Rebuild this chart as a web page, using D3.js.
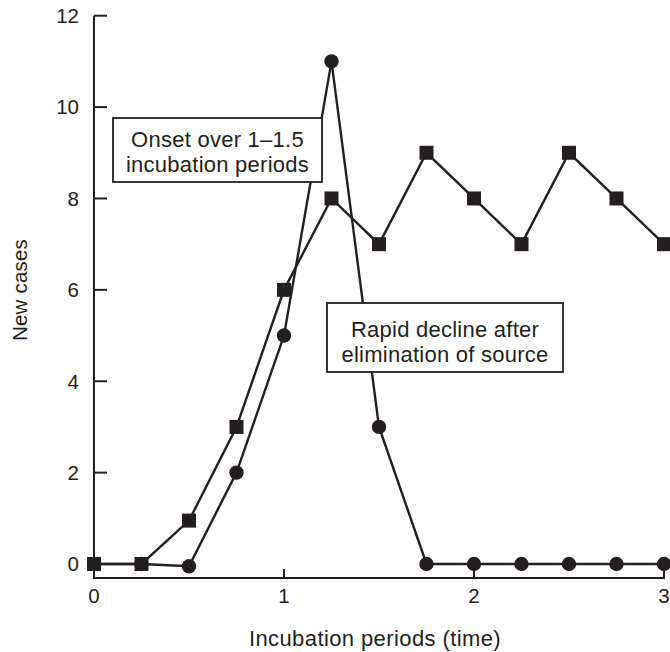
<!DOCTYPE html>
<html>
<head>
<meta charset="utf-8">
<script src="https://cdn.jsdelivr.net/npm/d3@7"></script>
<style>
  html, body { margin: 0; padding: 0; background: #fff; }
  svg { display: block; }
  text { font-family: "Liberation Sans", Arial, Helvetica, sans-serif; fill: #231f20; }
</style>
</head>
<body>
<svg id="chart" width="670" height="652"></svg>
<script>
// ---- data ----
const periods = [0, 0.25, 0.5, 0.75, 1, 1.25, 1.5, 1.75, 2, 2.25, 2.5, 2.75, 3];
const pointSource = [0, 0, -0.05, 2, 5, 11, 3, 0, 0, 0, 0, 0, 0];      // circles
const continuingSource = [0, 0, 0.95, 3, 6, 8, 7, 9, 8, 7, 9, 8, 7];   // squares
const xTicks = [0, 1, 2, 3];
const yTicks = [0, 2, 4, 6, 8, 10, 12];
const xTitle = "Incubation periods (time)";
const yTitle = "New cases";
const note1 = ["Onset over 1\u20131.5", "incubation periods"];
const note2 = ["Rapid decline after", "elimination of source"];

// ---- drawing ----
const ink = "#231f20";
const svg = d3.select("#chart");
const x = d3.scaleLinear().domain([0, 3]).range([94, 664]);
const y = d3.scaleLinear().domain([0, 12]).range([564, 15.7]);
const axisY = 578;

// axes lines
svg.append("line").attr("x1", x(0)).attr("x2", x(0)).attr("y1", y(12)).attr("y2", axisY + 1)
  .attr("stroke", ink).attr("stroke-width", 2);
svg.append("line").attr("x1", x(0) - 1).attr("x2", x(3) + 1).attr("y1", axisY).attr("y2", axisY)
  .attr("stroke", ink).attr("stroke-width", 2);

// y ticks (inward)
svg.selectAll(".yt").data(yTicks).enter().append("line")
  .attr("x1", x(0)).attr("x2", x(0) + 13)
  .attr("y1", d => y(d)).attr("y2", d => y(d))
  .attr("stroke", ink).attr("stroke-width", 2);
svg.selectAll(".yl").data(yTicks).enter().append("text")
  .attr("x", 79).attr("y", d => y(d)).attr("dy", "0.36em")
  .attr("text-anchor", "end").attr("font-size", 20.5).text(d => d);

// x ticks (upward)
svg.selectAll(".xt").data(xTicks).enter().append("line")
  .attr("x1", d => x(d)).attr("x2", d => x(d))
  .attr("y1", axisY).attr("y2", axisY - 9)
  .attr("stroke", ink).attr("stroke-width", 2);
svg.selectAll(".xl").data(xTicks).enter().append("text")
  .attr("x", d => x(d)).attr("y", 603)
  .attr("text-anchor", "middle").attr("font-size", 20.5).text(d => d);

// axis titles
svg.append("text").attr("x", 375).attr("y", 646).attr("text-anchor", "middle")
  .attr("font-size", 22).attr("letter-spacing", 0.4).text(xTitle);
svg.append("text").attr("transform", "translate(27,290) rotate(-90)")
  .attr("text-anchor", "middle").attr("font-size", 20.5).attr("letter-spacing", 0.2).text(yTitle);

// series
const line = d3.line().x((d, i) => x(periods[i])).y(d => y(d));
svg.append("path").datum(pointSource).attr("d", line)
  .attr("fill", "none").attr("stroke", ink).attr("stroke-width", 2.4);
svg.append("path").datum(continuingSource).attr("d", line)
  .attr("fill", "none").attr("stroke", ink).attr("stroke-width", 2.4);

svg.selectAll(".c").data(pointSource).enter().append("circle")
  .attr("cx", (d, i) => x(periods[i])).attr("cy", d => y(d)).attr("r", 7.2)
  .attr("fill", ink);
const sq = 14;
svg.selectAll(".s").data(continuingSource).enter().append("rect")
  .attr("x", (d, i) => x(periods[i]) - sq / 2).attr("y", d => y(d) - sq / 2)
  .attr("width", sq).attr("height", sq).attr("fill", ink);

// annotation boxes
function note(lines, x0, y0, w, h, base1) {
  svg.append("rect").attr("x", x0).attr("y", y0).attr("width", w).attr("height", h)
    .attr("fill", "#fff").attr("stroke", ink).attr("stroke-width", 1.8);
  lines.forEach((t, i) => {
    svg.append("text").attr("x", x0 + w / 2).attr("y", base1 + i * 25)
      .attr("text-anchor", "middle").attr("font-size", 22).attr("letter-spacing", 0.25).text(t);
  });
}
note(note1, 113, 118, 209, 64, 147);
note(note2, 327, 303, 236, 69, 337);
</script>
</body>
</html>
